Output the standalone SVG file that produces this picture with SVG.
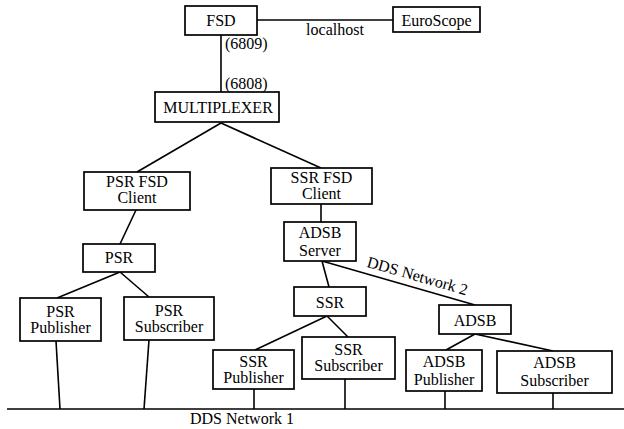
<svg xmlns="http://www.w3.org/2000/svg" width="624" height="429" viewBox="0 0 624 429">
  <style>
    .box { fill: #ffffff; stroke: #000000; stroke-width: 1.7; }
    .wire { stroke: #000000; stroke-width: 1.6; fill: none; }
    text { font-family: "Liberation Serif", "Times New Roman", serif; font-size: 16px; fill: #000000; }
    .c { text-anchor: middle; }
  </style>
  <rect width="624" height="429" fill="#ffffff"/>

  <!-- connectors and their labels -->
  <g id="connectors">
    <line class="wire" x1="257" y1="20" x2="393" y2="20"/>
    <line class="wire" x1="221" y1="35" x2="221" y2="92"/>
    <line class="wire" x1="221" y1="123" x2="137" y2="172"/>
    <line class="wire" x1="221" y1="123" x2="321" y2="168"/>
    <line class="wire" x1="136" y1="210" x2="120" y2="244"/>
    <line class="wire" x1="120" y1="272" x2="57" y2="298"/>
    <line class="wire" x1="120" y1="272" x2="149" y2="297"/>
    <line class="wire" x1="56" y1="341" x2="60" y2="409"/>
    <line class="wire" x1="149" y1="340" x2="144" y2="409"/>
    <line class="wire" x1="321" y1="204" x2="321" y2="222"/>
    <line class="wire" x1="322" y1="261" x2="329" y2="287"/>
    <line class="wire" x1="322" y1="261" x2="475" y2="305"/>
    <line class="wire" x1="327" y1="316" x2="255" y2="350"/>
    <line class="wire" x1="327" y1="316" x2="348" y2="337"/>
    <line class="wire" x1="475" y1="334" x2="446" y2="350"/>
    <line class="wire" x1="475" y1="334" x2="553" y2="351"/>
    <line class="wire" x1="254" y1="389" x2="254" y2="409"/>
    <line class="wire" x1="345" y1="379" x2="345" y2="409"/>
    <line class="wire" x1="445" y1="391" x2="445" y2="409"/>
    <line class="wire" x1="553" y1="393" x2="553" y2="409"/>
    <!-- shared bus -->
    <line class="wire" x1="7" y1="409" x2="624" y2="409" stroke-width="1.8"/>
    <text x="335" y="35" class="c">localhost</text>
    <text x="225" y="49">(6809)</text>
    <text x="225" y="89">(6808)</text>
    <text x="242" y="424" class="c">DDS Network 1</text>
    <text x="416" y="281" class="c" transform="rotate(16 416 281)">DDS Network 2</text>
  </g>

  <g id="fsd">
    <rect class="box" x="185" y="6" width="72" height="29"/>
    <text x="221" y="26" class="c">FSD</text>
  </g>
  <g id="euroscope">
    <rect class="box" x="393" y="7" width="87" height="25"/>
    <text x="436.5" y="26" class="c">EuroScope</text>
  </g>
  <g id="multiplexer">
    <rect class="box" x="155" y="92" width="124" height="30"/>
    <text x="218" y="113" class="c">MULTIPLEXER</text>
  </g>
  <g id="psr-fsd-client">
    <rect class="box" x="84" y="172" width="106" height="38"/>
    <text x="137" y="187" class="c">PSR FSD</text>
    <text x="137" y="203" class="c">Client</text>
  </g>
  <g id="psr">
    <rect class="box" x="83" y="244" width="72" height="28"/>
    <text x="119" y="263" class="c">PSR</text>
  </g>
  <g id="psr-publisher">
    <rect class="box" x="20" y="298" width="81" height="43"/>
    <text x="60.5" y="317" class="c">PSR</text>
    <text x="60.5" y="333" class="c">Publisher</text>
  </g>
  <g id="psr-subscriber">
    <rect class="box" x="124" y="297" width="90" height="43"/>
    <text x="169" y="316" class="c">PSR</text>
    <text x="169" y="332" class="c">Subscriber</text>
  </g>
  <g id="ssr-fsd-client">
    <rect class="box" x="271" y="168" width="101" height="36"/>
    <text x="321.5" y="183" class="c">SSR FSD</text>
    <text x="321.5" y="199" class="c">Client</text>
  </g>
  <g id="adsb-server">
    <rect class="box" x="284" y="222" width="72" height="39"/>
    <text x="320" y="238" class="c">ADSB</text>
    <text x="320" y="256" class="c">Server</text>
  </g>
  <g id="ssr">
    <rect class="box" x="294" y="287" width="72" height="29"/>
    <text x="330" y="308" class="c">SSR</text>
  </g>
  <g id="adsb">
    <rect class="box" x="439" y="305" width="72" height="29"/>
    <text x="475" y="326" class="c">ADSB</text>
  </g>
  <g id="ssr-publisher">
    <rect class="box" x="213" y="350" width="81" height="39"/>
    <text x="253.5" y="367" class="c">SSR</text>
    <text x="253.5" y="383" class="c">Publisher</text>
  </g>
  <g id="ssr-subscriber">
    <rect class="box" x="302" y="337" width="93" height="42"/>
    <text x="348.5" y="355" class="c">SSR</text>
    <text x="348.5" y="371" class="c">Subscriber</text>
  </g>
  <g id="adsb-publisher">
    <rect class="box" x="406" y="350" width="76" height="41"/>
    <text x="444" y="367" class="c">ADSB</text>
    <text x="444" y="385" class="c">Publisher</text>
  </g>
  <g id="adsb-subscriber">
    <rect class="box" x="497" y="351" width="115" height="42"/>
    <text x="554.5" y="368" class="c">ADSB</text>
    <text x="554.5" y="386" class="c">Subscriber</text>
  </g>
</svg>
